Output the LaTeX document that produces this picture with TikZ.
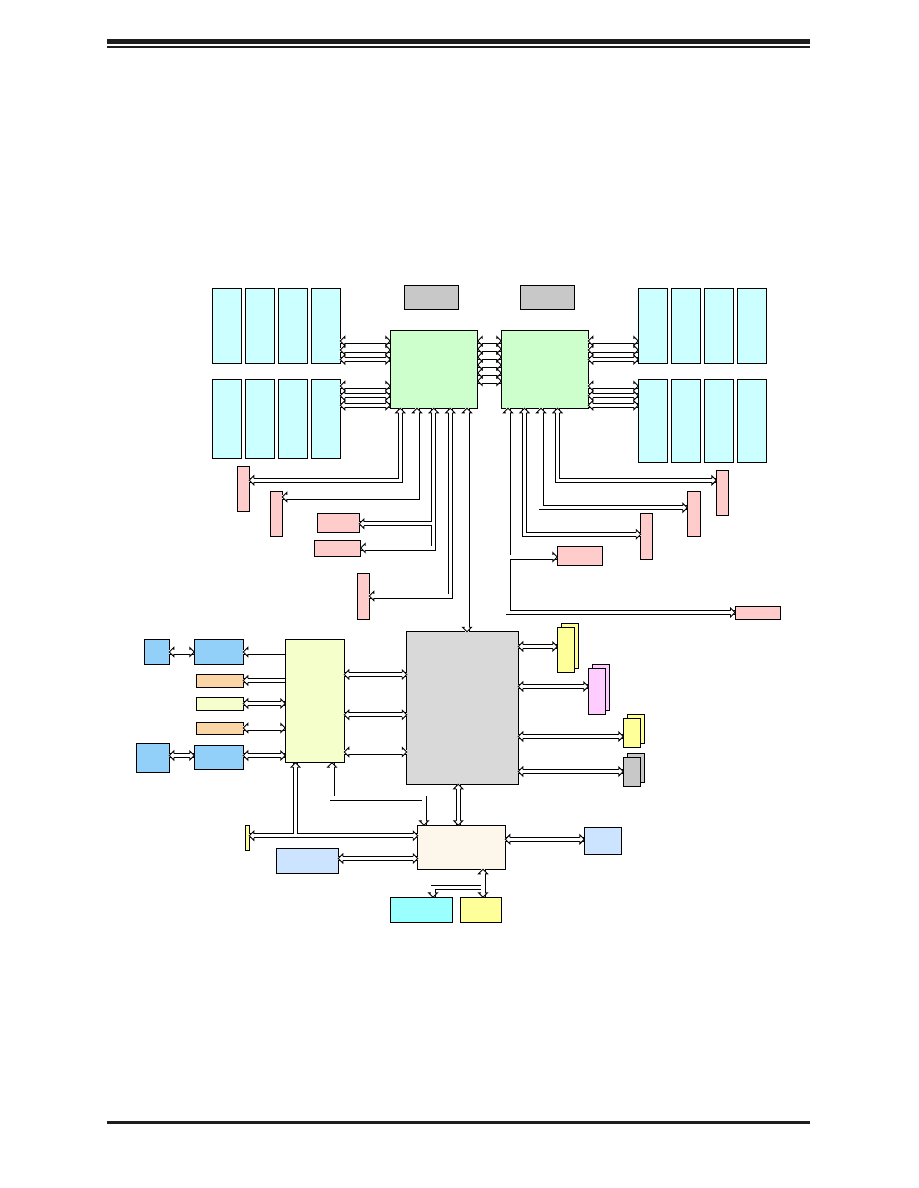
\documentclass[tikz,border=0pt]{standalone}
\usetikzlibrary{fit,calc}
\definecolor{memc}{HTML}{CCFFFF}
\definecolor{cpuc}{HTML}{CCFFCC}
\definecolor{gryc}{HTML}{C8C8C8}
\definecolor{pnkc}{HTML}{FFCCCC}
\definecolor{pchc}{HTML}{D9D9D9}
\definecolor{ylwc}{HTML}{FFFF99}
\definecolor{mgnc}{HTML}{FFCCFF}
\definecolor{swc}{HTML}{F4FFCC}
\definecolor{bluc}{HTML}{92D0FA}
\definecolor{orgc}{HTML}{FCD5A6}
\definecolor{lyc}{HTML}{F6FFCC}
\definecolor{bmcc}{HTML}{FDF6EA}
\definecolor{lbc}{HTML}{CCE4FF}
\definecolor{cyc}{HTML}{99FFFF}
\definecolor{rulec}{HTML}{1E1E1E}
\tikzset{
  box/.style={draw=black, line width=0.9pt, inner sep=0pt, outer sep=0pt},
  bus/.style={draw=black, line width=0.9pt, double=white, double distance=3.2pt},
  headst/.style={draw=black, line width=0.9pt, fill=white},
  hdR/.pic={\path[headst] (-4.5,-2.05) -- (-4.5,-4.5) -- (0,0) -- (-4.5,4.5) -- (-4.5,2.05);},
  hdL/.pic={\path[headst] (4.5,-2.05) -- (4.5,-4.5) -- (0,0) -- (4.5,4.5) -- (4.5,2.05);},
  hdD/.pic={\path[headst] (-2.05,-4.5) -- (-4.5,-4.5) -- (0,0) -- (4.5,-4.5) -- (2.05,-4.5);},
  hdU/.pic={\path[headst] (-2.05,4.5) -- (-4.5,4.5) -- (0,0) -- (4.5,4.5) -- (2.05,4.5);},
}
\newcommand\bx[6]{\node[box, fill=#6, fit={(#2,#3) (#4,#5)}] (#1) {};}
\newcommand\hbus[3]{%
  \draw[bus] (#1 |- 0,#3) -- (#2 |- 0,#3);
  \pic at (#1 |- 0,#3) {hdL};
  \pic at (#2 |- 0,#3) {hdR};}
\begin{document}
\begin{tikzpicture}[x=1pt,y=-1pt]
\useasboundingbox (0,0) rectangle (918,1188);
% page rules
\fill[rulec] (107,39.5) rectangle (810,44.5);
\fill[rulec] (107,46) rectangle (810,48);
\fill[rulec] (107,1121) rectangle (810,1124);
% memory left
\bx{mLa1}{212.3}{288.3}{241.7}{363.3}{memc}
\bx{mLa2}{245.3}{288.3}{274.3}{363.3}{memc}
\bx{mLa3}{278.3}{288.3}{307.3}{363.3}{memc}
\bx{mLa4}{311.3}{288.3}{340.3}{363.3}{memc}
\bx{mLb1}{212.3}{379.3}{241.7}{458.3}{memc}
\bx{mLb2}{245.3}{379.3}{274.3}{458.3}{memc}
\bx{mLb3}{278.3}{379.3}{307.3}{458.3}{memc}
\bx{mLb4}{311.3}{379.3}{340.3}{458.3}{memc}
% memory right
\bx{mRa1}{638.3}{288.3}{667.0}{363.3}{memc}
\bx{mRa2}{671.3}{288.3}{700.3}{363.3}{memc}
\bx{mRa3}{704.3}{288.3}{733.3}{363.3}{memc}
\bx{mRa4}{737.3}{288.3}{766.3}{363.3}{memc}
\bx{mRb1}{638.3}{379.3}{667.0}{462.3}{memc}
\bx{mRb2}{671.3}{379.3}{700.3}{462.3}{memc}
\bx{mRb3}{704.3}{379.3}{733.3}{462.3}{memc}
\bx{mRb4}{737.3}{379.3}{766.3}{462.3}{memc}
% grey top boxes and CPUs
\bx{gA}{404.3}{285.3}{458.3}{309.3}{gryc}
\bx{gB}{520.3}{285.3}{574.3}{309.3}{gryc}
\bx{cpuA}{390.3}{330.3}{477.7}{408.3}{cpuc}
\bx{cpuB}{501.3}{330.3}{588.3}{408.3}{cpuc}
% pink left
\bx{pL1}{237.3}{466.3}{249.3}{511.3}{pnkc}
\bx{pL2}{270.3}{491.3}{282.3}{536.3}{pnkc}
\bx{pL3}{317.3}{513.3}{359.3}{532.3}{pnkc}
\bx{pL4}{314.3}{540.3}{360.7}{556.3}{pnkc}
\bx{pL5}{357.3}{573.3}{369.3}{619.3}{pnkc}
% pink right
\bx{pR1}{716.3}{470.3}{728.3}{515.3}{pnkc}
\bx{pR2}{687.3}{491.3}{700.3}{536.3}{pnkc}
\bx{pR3}{640.7}{513.3}{652.3}{559.3}{pnkc}
\bx{pR4}{557.3}{546.3}{602.7}{565.7}{pnkc}
\bx{pR5}{735.0}{606.0}{780.3}{619.3}{pnkc}
% PCH and stacked devices
\bx{pch}{406.7}{631.7}{518.3}{784.3}{pchc}
\bx{y1b}{561.3}{623.3}{578.3}{668.3}{ylwc}
\bx{y1f}{557.3}{627.3}{574.7}{672.3}{ylwc}
\bx{p1b}{592.3}{664.3}{609.3}{710.3}{mgnc}
\bx{p1f}{588.3}{668.3}{605.3}{714.3}{mgnc}
\bx{y2b}{627.3}{714.3}{644.3}{743.3}{ylwc}
\bx{y2f}{623.3}{718.3}{640.3}{747.3}{ylwc}
\bx{g1b}{627.3}{753.3}{644.3}{782.3}{gryc}
\bx{g1f}{623.3}{757.3}{640.3}{786.0}{gryc}
% switch and left devices
\bx{sw}{285.3}{639.3}{344.3}{762.7}{swc}
\bx{bs1}{144.3}{639.3}{169.3}{664.0}{bluc}
\bx{bl1}{194.3}{639.3}{243.3}{664.0}{bluc}
\bx{or1}{196.7}{674.3}{243.3}{687.3}{orgc}
\bx{ly}{196.7}{697.3}{243.3}{710.3}{lyc}
\bx{or2}{196.7}{722.3}{243.3}{734.3}{orgc}
\bx{bl2}{194.3}{745.3}{243.3}{769.3}{bluc}
\bx{bs2}{136.7}{743.7}{169.3}{772.0}{bluc}
% BMC area
\bx{ybar}{245.7}{825.3}{249.3}{850.3}{ylwc}
\bx{bmc}{417.7}{825.3}{505.3}{869.3}{bmcc}
\bx{bb}{276.0}{848.3}{338.3}{873.3}{lbc}
\bx{br}{584.3}{827.3}{621.3}{854.0}{lbc}
\bx{cyb}{390.3}{897.3}{452.3}{922.3}{cyc}
\bx{ybx}{460.3}{897.3}{501.7}{922.3}{ylwc}
% memory buses
\foreach \y in {341,350,359.5,386,395.7,405.3} {\hbus{mLa4.east}{cpuA.west}{\y}}
\foreach \y in {341,350,359.5,386,395.7,405.3} {\hbus{cpuB.east}{mRa1.west}{\y}}
\foreach \y in {341,349,357,365,373,381} {\hbus{cpuA.east}{cpuB.west}{\y}}
% CPU1 bottom buses
\draw[bus] (cpuA.south -| 400.3,0) |- (pL1.east |- 0,480.3);
\draw[bus] (cpuA.south -| 417,0) |- (pL2.east |- 0,497);
\draw[bus] (cpuA.south -| 433.7,0) |- (pL4.east |- 0,548) (433.7,523.7) -- (pL3.east |- 0,523.7);
\draw[bus] (cpuA.south -| 450.3,0) |- (pL5.east |- 0,596);
\draw[bus] (cpuA.south -| 467,0) -- (pch.north -| 467,0);
\foreach \x in {400.3,417,433.7,450.3,467} {\pic at (cpuA.south -| \x,0) {hdU};}
\pic at (pL1.east |- 0,480.3) {hdL};
\pic at (pL2.east |- 0,497) {hdL};
\pic at (pL4.east |- 0,548) {hdL};
\pic at (pL3.east |- 0,523.7) {hdL};
\pic at (pL5.east |- 0,596) {hdL};
\pic at (pch.north -| 467,0) {hdD};
% CPU2 bottom buses
\draw[bus] (cpuB.south -| 508,0) |- (pR5.west |- 0,612.5) (508,557) -- (pR4.west |- 0,557);
\draw[bus] (cpuB.south -| 524.5,0) |- (pR3.west |- 0,534.3);
\draw[bus] (cpuB.south -| 541,0) |- (pR2.west |- 0,507.7);
\draw[bus] (cpuB.south -| 557.5,0) |- (pR1.west |- 0,480.3);
\foreach \x in {508,524.5,541,557.5} {\pic at (cpuB.south -| \x,0) {hdU};}
\pic at (pR5.west |- 0,612.5) {hdR};
\pic at (pR4.west |- 0,557) {hdR};
\pic at (pR3.west |- 0,534.3) {hdR};
\pic at (pR2.west |- 0,507.7) {hdR};
\pic at (pR1.west |- 0,480.3) {hdR};
% PCH right
\hbus{pch.east}{y1f.west}{646.5}
\hbus{pch.east}{p1f.west}{686.5}
\hbus{pch.east}{y2f.west}{736.5}
\hbus{pch.east}{g1f.west}{771.5}
% switch to PCH
\foreach \y in {674.5,714.8,752} {\hbus{sw.east}{pch.west}{\y}}
% switch left
\draw[bus] (bl1.east |- 0,652) -- (sw.west |- 0,652);
\pic at (bl1.east |- 0,652) {hdL};
\hbus{bs1.east}{bl1.west}{652}
\draw[bus] (or1.east |- 0,680.5) -- (sw.west |- 0,680.5);
\pic at (or1.east |- 0,680.5) {hdL};
\hbus{ly.east}{sw.west}{703.5}
\hbus{or2.east}{sw.west}{728}
\hbus{bl2.east}{sw.west}{755.5}
\hbus{bs2.east}{bl2.west}{755.5}
% switch bottom
\draw[bus] (sw.south -| 295.5,0) -- (295.5,835.8) (ybar.east |- 0,835.8) -- (bmc.west |- 0,835.8);
\pic at (sw.south -| 295.5,0) {hdU};
\pic at (ybar.east |- 0,835.8) {hdL};
\pic at (bmc.west |- 0,835.8) {hdR};
\draw[bus] (sw.south -| 332,0) |- (424,798) -- (bmc.north -| 424,0);
\pic at (sw.south -| 332,0) {hdU};
\pic at (bmc.north -| 424,0) {hdD};
% PCH to BMC
\draw[bus] (pch.south -| 458.2,0) -- (bmc.north -| 458.2,0);
\pic at (pch.south -| 458.2,0) {hdU};
\pic at (bmc.north -| 458.2,0) {hdD};
% BMC sides
\hbus{bb.east}{bmc.west}{858.5}
\hbus{bmc.east}{br.west}{839.3}
% BMC bottom
\draw[bus] (bmc.south -| 483,0) -- (ybx.north -| 483,0) (483,887.7) -| (cyb.north -| 433,0);
\pic at (bmc.south -| 483,0) {hdU};
\pic at (ybx.north -| 483,0) {hdD};
\pic at (cyb.north -| 433,0) {hdD};
\end{tikzpicture}
\end{document}
